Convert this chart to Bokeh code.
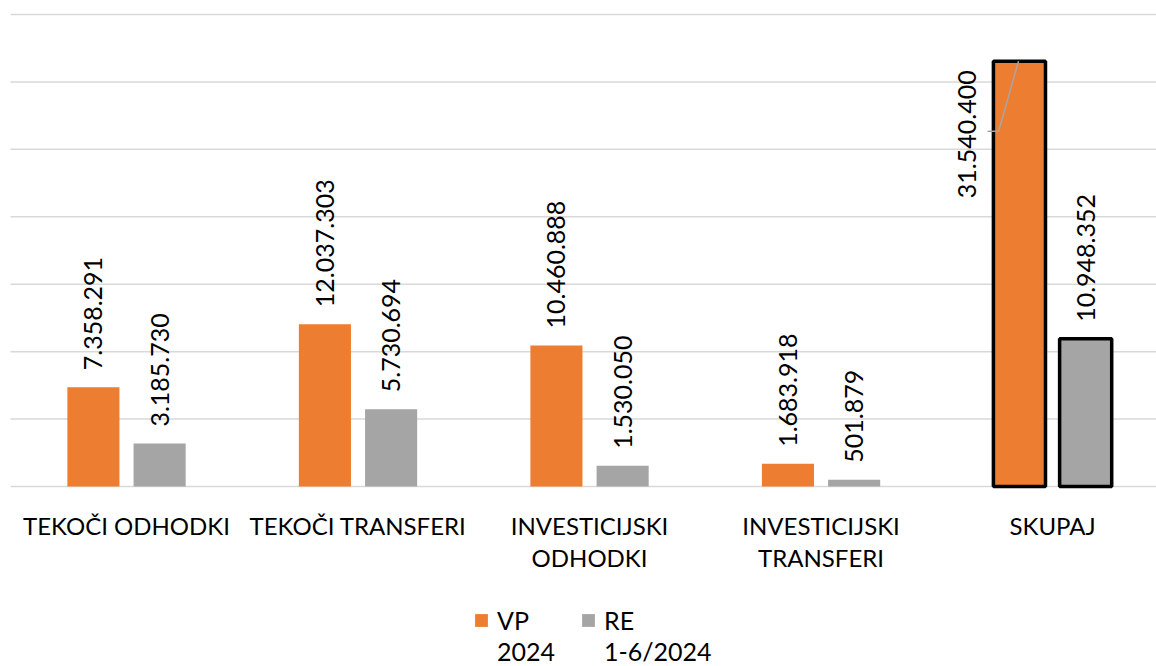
import math
from bokeh.plotting import figure
from bokeh.models import (ColumnDataSource, FixedTicker, Range1d, Legend, LegendItem)
from bokeh.core.properties import value
from bokeh.embed import file_html
from bokeh.resources import INLINE

categories = ["TEKOČI ODHODKI", "TEKOČI TRANSFERI", "INVESTICIJSKI\nODHODKI",
              "INVESTICIJSKI\nTRANSFERI", "SKUPAJ"]
vp_2024 = [7358291, 12037303, 10460888, 1683918, 31540400]
re_2024 = [3185730, 5730694, 1530050, 501879, 10948352]
vp_labels = ["7.358.291", "12.037.303", "10.460.888", "1.683.918", "31.540.400"]
re_labels = ["3.185.730", "5.730.694", "1.530.050", "501.879", "10.948.352"]
series_line1 = ["VP", "RE"]
series_line2 = ["2024", "1-6/2024"]
grid_ticks = [0, 5000000, 10000000, 15000000, 20000000, 25000000, 30000000, 35000000]

ORANGE = "#ED7D31"
GRAY = "#A5A5A5"
FONT = "Lato"
FS_AX = "24px"
FS = "25px"

n = len(categories)
xs = list(range(n))
off = 0.143
bw = 0.225

p = figure(width=1156, height=666, output_backend="svg", toolbar_location=None,
           x_range=Range1d(-0.5443, 4.449), y_range=Range1d(-13347000, 36038000),
           min_border_left=0, min_border_right=0, min_border_top=0, min_border_bottom=0)
p.outline_line_color = None
p.background_fill_color = "white"
p.border_fill_color = "white"
p.xaxis.visible = False
p.yaxis.visible = False
p.xgrid.visible = False
p.ygrid.visible = False

# horizontal gridlines (plot area spans only the bar region)
p.segment(x0=-0.5011, x1=4.449, y0=grid_ticks, y1=grid_ticks,
          line_color="#D9D9D9", line_width=1.5)

# category labels under the bars
p.text(x=xs, y=[0] * n, text=categories, text_align="center", text_baseline="top",
       y_offset=24, text_line_height=1.13,
       text_font=value(FONT), text_font_size=FS_AX, text_color="black")

vp_src = ColumnDataSource(dict(x=[x - off for x in xs[:-1]], top=vp_2024[:-1]))
re_src = ColumnDataSource(dict(x=[x + off for x in xs[:-1]], top=re_2024[:-1]))
r_vp = p.vbar(x="x", top="top", width=bw, source=vp_src, fill_color=ORANGE, line_color=None)
r_re = p.vbar(x="x", top="top", width=bw, source=re_src, fill_color=GRAY, line_color=None)

# total bars with black outline
p.vbar(x=[xs[-1] - off], top=[vp_2024[-1]], width=bw, fill_color=ORANGE,
       line_color="black", line_width=3.5)
p.vbar(x=[xs[-1] + off], top=[re_2024[-1]], width=bw, fill_color=GRAY,
       line_color="black", line_width=3.5)

# data labels
lab_src = ColumnDataSource(dict(
    x=[x - off for x in xs[:-1]] + [x + off for x in xs],
    y=vp_2024[:-1] + re_2024,
    t=vp_labels[:-1] + re_labels))
p.text(x="x", y="y", text="t", source=lab_src, angle=math.pi / 2,
       text_align="left", text_baseline="middle", y_offset=-17,
       text_font=value(FONT), text_font_size=FS, text_color="black")

# total VP label placed beside the bar with a leader line
p.text(x=[xs[-1] - off], y=[vp_2024[-1]], text=[vp_labels[-1]], angle=math.pi / 2,
       text_align="left", text_baseline="middle", x_offset=-52, y_offset=137,
       text_font=value(FONT), text_font_size=FS, text_color="black")
lx = xs[-1]
p.line(x=[lx - 0.281, lx - 0.233, lx - 0.147],
       y=[vp_2024[-1] * 0.835, vp_2024[-1] * 0.835, vp_2024[-1]],
       line_color="#A6A6A6", line_width=1.5)

# legend: first line with swatches, second line without
dummy = p.vbar(x=[], top=[], width=0.1, fill_alpha=0, line_alpha=0)
common = dict(orientation="horizontal", label_text_font=FONT, label_text_font_size=FS,
              label_text_color="black", glyph_width=16, glyph_height=16, spacing=23,
              label_width=60, label_height=30, border_line_color=None,
              background_fill_alpha=0, margin=0, padding=0, label_standoff=8)
leg1 = Legend(items=[LegendItem(label=series_line1[0], renderers=[r_vp]),
                     LegendItem(label=series_line1[1], renderers=[r_re])],
              location=(473, 31), **common)
leg2 = Legend(items=[LegendItem(label=series_line2[0], renderers=[dummy]),
                     LegendItem(label=series_line2[1], renderers=[dummy])],
              location=(473, 0), **common)
p.add_layout(leg1)
p.add_layout(leg2)

open("out.html", "w").write(file_html(p, INLINE))
